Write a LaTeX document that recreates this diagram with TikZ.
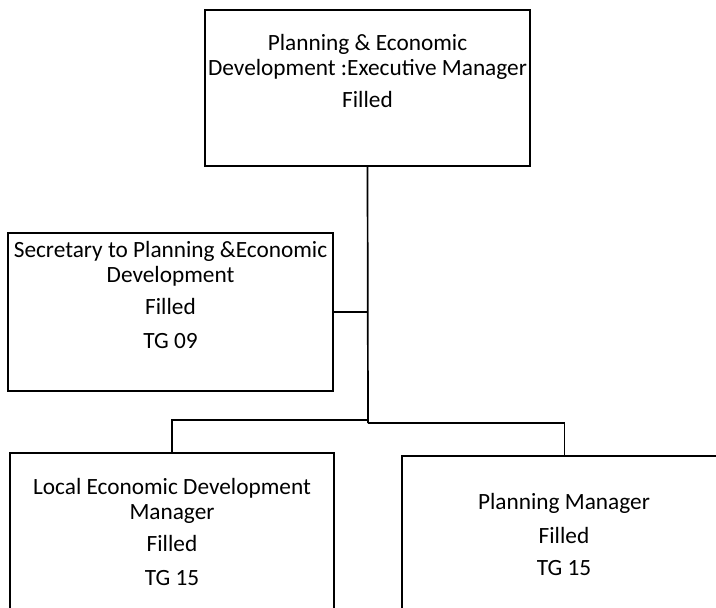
\documentclass[tikz,border=0pt]{standalone}
\usepackage{fontspec}
\setmainfont{Carlito}
\begin{document}
\begin{tikzpicture}[x=1pt,y=-1pt,
  box/.style={draw=black,line width=1.1pt,minimum width=325pt,inner sep=0pt},
  txt/.style={align=center,font=\fontsize{23.3}{24.5}\selectfont,inner sep=0pt},
  conn/.style={draw=black,line width=1.1pt}]
\useasboundingbox (0,0) rectangle (716,608);
\clip (0,0) rectangle (716,608);
\fill[white] (0,0) rectangle (716,608);
\node[box,minimum height=156pt] (top) at (367.5,88) {};
\node[box,minimum height=158pt] (sec) at (170.5,312) {};
\node[box,minimum width=324pt,minimum height=170pt] (led) at (172,538) {};
\node[box,minimum height=170pt] (pm) at (564.5,541) {};
\node[txt] (ttop) at (367.5,71) {Planning \& Economic\\Development :Executive Manager\\[8pt]Filled};
\node[txt] (tsec) at (170.5,295) {Secretary to Planning \&Economic\\Development\\[8pt]Filled\\[9pt]TG 09};
\node[txt] (tled) at (172,532) {Local Economic Development\\Manager\\[8pt]Filled\\[9pt]TG 15};
\node[txt] (tpm) at (564,534.5) {Planning Manager\\[9pt]Filled\\[8pt]TG 15};
\coordinate (jl) at (368,420);
\coordinate (jr) at (368,423);
\draw[conn,line width=1.7pt] (top.south) -- (jr);
\draw[conn] (sec.east) -- (sec.east -| top.south);
\draw[conn] (jl) -| (led.north);
\draw[conn] (jr) -| (pm.north);
\end{tikzpicture}
\end{document}
